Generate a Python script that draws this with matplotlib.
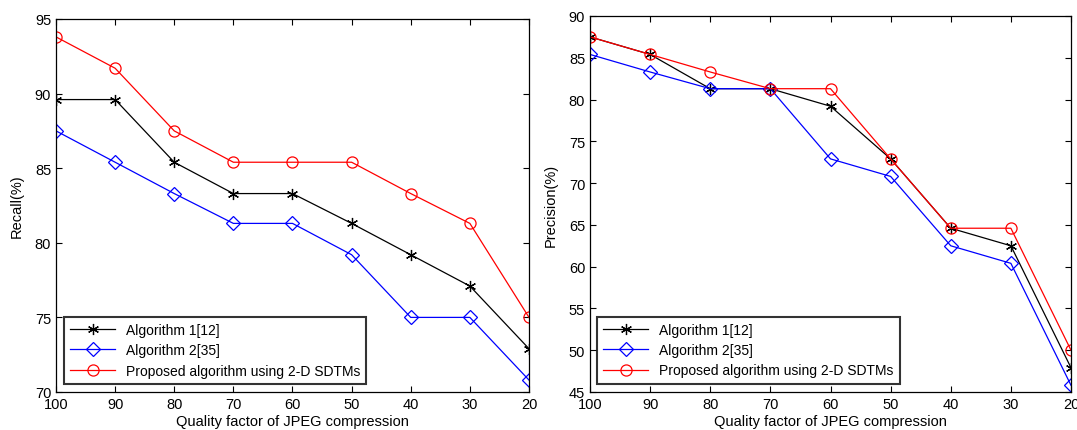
import matplotlib
matplotlib.use("Agg")
import matplotlib.pyplot as plt

quality = [100, 90, 80, 70, 60, 50, 40, 30, 20]
labels = ["Algorithm 1[12]", "Algorithm 2[35]", "Proposed algorithm using 2-D SDTMs"]

recall_alg1 = [89.6, 89.6, 85.4, 83.3, 83.3, 81.3, 79.2, 77.1, 72.9]
recall_alg2 = [87.5, 85.4, 83.3, 81.3, 81.3, 79.2, 75.0, 75.0, 70.8]
recall_prop = [93.8, 91.7, 87.5, 85.4, 85.4, 85.4, 83.3, 81.3, 75.0]

prec_alg1 = [87.5, 85.4, 81.3, 81.3, 79.2, 72.9, 64.6, 62.5, 47.9]
prec_alg2 = [85.4, 83.3, 81.3, 81.3, 72.9, 70.8, 62.5, 60.4, 45.8]
prec_prop = [87.5, 85.4, 83.3, 81.3, 81.3, 72.9, 64.6, 64.6, 50.0]

plt.rcParams['font.family'] = ['Liberation Sans', 'DejaVu Sans']

W, H = 1077, 431
fig = plt.figure(figsize=(W / 100, H / 100), dpi=100)

def add_axes(l, t, r, b):
    return fig.add_axes([l / W, 1 - b / H, (r - l) / W, (b - t) / H])

ax1 = add_axes(56, 20, 529, 393)
ax2 = add_axes(590, 17, 1071, 393)

styles = [
    dict(color='black', marker=(6, 2, 0), markersize=8, markeredgewidth=0.9),
    dict(color='blue', marker='D', markersize=7, markerfacecolor='none', markeredgewidth=0.9),
    dict(color='red', marker='o', markersize=8, markerfacecolor='none', markeredgewidth=0.9),
]

def draw(ax, series, ylim, yticks, ylabel, legx):
    for s, lab, st in zip(series, labels, styles):
        ax.plot(quality, s, lw=0.9, label=lab, **st)
    ax.set_xlim(100, 20)
    ax.set_ylim(*ylim)
    ax.set_xticks(quality)
    ax.set_yticks(yticks)
    ax.tick_params(direction='in', top=True, right=True, labelsize=10.5, length=4, width=0.8)
    for sp in ax.spines.values():
        sp.set_linewidth(0.9)
    ax.set_xlabel("Quality factor of JPEG compression", fontsize=10.5, labelpad=2)
    ax.set_ylabel(ylabel, fontsize=10.5, labelpad=8)
    leg = ax.legend(loc='lower left', bbox_to_anchor=(legx, 0.022), fontsize=10,
                    frameon=True, fancybox=False, edgecolor='black', borderpad=0.45,
                    handlelength=3.2, labelspacing=0.45, borderaxespad=0.0)
    leg.get_frame().set_linewidth(1.5)

draw(ax1, [recall_alg1, recall_alg2, recall_prop], (70, 95), [70, 75, 80, 85, 90, 95], "Recall(%)", 0.017)
draw(ax2, [prec_alg1, prec_alg2, prec_prop], (45, 90), list(range(45, 91, 5)), "Precision(%)", 0.015)

fig.savefig("out.png", dpi=100)
